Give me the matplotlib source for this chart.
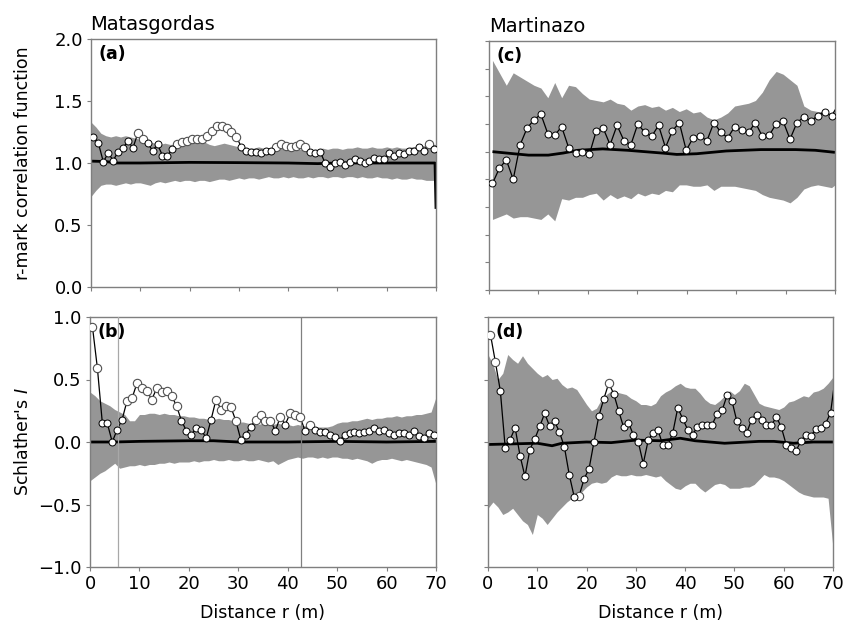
import numpy as np
import matplotlib
matplotlib.use("Agg")
import matplotlib.pyplot as plt

plt.rcParams['font.family'] = ['DejaVu Sans']
plt.rcParams['mathtext.fontset'] = 'custom'
plt.rcParams['mathtext.it'] = 'DejaVu Sans:italic'
plt.rcParams['mathtext.rm'] = 'DejaVu Sans'

# ---------------- data ----------------
# observation distances (m)
r_obs = np.arange(70) + 0.5              # panels a, b
r_obs_d = np.arange(71) + 0.5            # panel d (last value beyond axis)
r_obs_c = np.arange(51) * 1.4 + 0.7      # panel c (last value beyond axis)
r_band = np.arange(71)                   # envelope grid for a, b, d
r_band_c = np.append(np.arange(50) * 1.4 + 0.7, 70.0)

# (a) Matasgordas r-mark correlation function
obs_a = [1.21, 1.16, 1.01, 1.08, 1.02, 1.09, 1.12, 1.18, 1.12, 1.24,
         1.19, 1.16, 1.10, 1.15, 1.06, 1.06, 1.11, 1.15, 1.17, 1.18,
         1.19, 1.19, 1.19, 1.22, 1.26, 1.30, 1.30, 1.28, 1.25, 1.21,
         1.13, 1.10, 1.09, 1.09, 1.08, 1.10, 1.10, 1.13, 1.15, 1.14,
         1.13, 1.14, 1.15, 1.13, 1.09, 1.08, 1.09, 1.00, 0.97, 1.00,
         1.01, 0.98, 1.01, 1.03, 1.02, 1.00, 1.02, 1.04, 1.03, 1.03,
         1.08, 1.06, 1.08, 1.07, 1.10, 1.10, 1.13, 1.10, 1.15, 1.11]
hi_a = [1.33, 1.29, 1.24, 1.22, 1.21, 1.22, 1.21, 1.22, 1.21, 1.20,
        1.19, 1.18, 1.17, 1.16, 1.15, 1.16, 1.15, 1.15, 1.14, 1.15,
        1.16, 1.17, 1.18, 1.17, 1.15, 1.14, 1.15, 1.16, 1.15, 1.14,
        1.13, 1.13, 1.12, 1.12, 1.13, 1.12, 1.12, 1.13, 1.12, 1.12,
        1.11, 1.12, 1.11, 1.11, 1.12, 1.11, 1.11, 1.12, 1.11, 1.12,
        1.12, 1.11, 1.12, 1.12, 1.13, 1.12, 1.12, 1.13, 1.12, 1.12,
        1.13, 1.12, 1.13, 1.12, 1.12, 1.13, 1.13, 1.14, 1.14, 1.15, 1.15]
lo_a = [0.73, 0.78, 0.82, 0.83, 0.83, 0.82, 0.83, 0.84, 0.83, 0.84,
        0.84, 0.83, 0.82, 0.84, 0.85, 0.84, 0.85, 0.86, 0.85, 0.86,
        0.86, 0.85, 0.86, 0.86, 0.85, 0.86, 0.87, 0.87, 0.86, 0.87,
        0.88, 0.87, 0.88, 0.88, 0.87, 0.88, 0.89, 0.88, 0.88, 0.89,
        0.88, 0.89, 0.88, 0.88, 0.89, 0.88, 0.89, 0.89, 0.88, 0.89,
        0.89, 0.88, 0.89, 0.89, 0.88, 0.89, 0.88, 0.88, 0.89, 0.88,
        0.88, 0.87, 0.88, 0.87, 0.87, 0.88, 0.87, 0.87, 0.86, 0.86, 0.86]
mean_a_r = [0, 3, 5, 10, 20, 30, 40, 46, 50, 60, 69.8, 70.0]
mean_a = [1.015, 1.012, 1.0, 1.0, 1.005, 1.003, 1.0, 0.995, 1.0, 1.0, 1.0, 0.63]

# (b) Matasgordas Schlather's I
obs_b = [0.92, 0.59, 0.15, 0.15, 0.00, 0.10, 0.18, 0.33, 0.35, 0.47,
         0.43, 0.41, 0.34, 0.43, 0.40, 0.41, 0.37, 0.29, 0.17, 0.09,
         0.06, 0.11, 0.10, 0.03, 0.18, 0.34, 0.26, 0.29, 0.28, 0.17,
         0.02, 0.06, 0.12, 0.18, 0.22, 0.17, 0.17, 0.09, 0.20, 0.14,
         0.23, 0.22, 0.20, 0.09, 0.14, 0.10, 0.08, 0.08, 0.06, 0.04,
         0.01, 0.06, 0.07, 0.08, 0.07, 0.08, 0.09, 0.11, 0.09, 0.10,
         0.07, 0.06, 0.075, 0.075, 0.06, 0.085, 0.05, 0.03, 0.075, 0.06]
hi_b = [0.40, 0.37, 0.33, 0.31, 0.29, 0.26, 0.24, 0.22, 0.17, 0.17,
        0.22, 0.22, 0.23, 0.23, 0.22, 0.23, 0.22, 0.22, 0.21, 0.21,
        0.20, 0.20, 0.19, 0.19, 0.18, 0.18, 0.19, 0.18, 0.18, 0.17,
        0.16, 0.16, 0.15, 0.15, 0.14, 0.15, 0.14, 0.14, 0.15, 0.14,
        0.14, 0.13, 0.14, 0.13, 0.13, 0.12, 0.12, 0.12, 0.12, 0.13,
        0.15, 0.16, 0.16, 0.17, 0.17, 0.18, 0.19, 0.18, 0.19, 0.19,
        0.20, 0.20, 0.21, 0.20, 0.21, 0.21, 0.22, 0.22, 0.23, 0.24, 0.36]
lo_b = [-0.31, -0.28, -0.25, -0.23, -0.20, -0.17, -0.21, -0.20, -0.19, -0.19,
        -0.18, -0.19, -0.18, -0.18, -0.17, -0.17, -0.16, -0.17, -0.16, -0.16,
        -0.16, -0.15, -0.16, -0.15, -0.15, -0.14, -0.15, -0.15, -0.14, -0.15,
        -0.15, -0.14, -0.15, -0.15, -0.14, -0.15, -0.16, -0.15, -0.18, -0.16,
        -0.14, -0.13, -0.12, -0.13, -0.12, -0.12, -0.13, -0.12, -0.13, -0.12,
        -0.12, -0.13, -0.13, -0.14, -0.13, -0.14, -0.15, -0.17, -0.15, -0.14,
        -0.14, -0.13, -0.14, -0.15, -0.14, -0.15, -0.16, -0.17, -0.18, -0.20, -0.34]
mean_b_r = [0, 5, 10, 20, 25, 30, 40, 50, 60, 70]
mean_b = [0.0, 0.0, 0.005, 0.01, 0.01, 0.0, 0.0, 0.005, 0.0, 0.005]
vlines_b = [5.7, 42.6]

# (c) Martinazo r-mark correlation function
obs_c = [0.77, 0.88, 0.94, 0.80, 1.05, 1.17, 1.23, 1.27, 1.13, 1.12,
         1.18, 1.03, 0.99, 1.00, 0.98, 1.15, 1.17, 1.05, 1.19, 1.08,
         1.05, 1.20, 1.14, 1.11, 1.19, 1.03, 1.15, 1.21, 1.01, 1.10,
         1.11, 1.08, 1.21, 1.14, 1.10, 1.18, 1.16, 1.14, 1.21, 1.11,
         1.12, 1.20, 1.22, 1.09, 1.21, 1.25, 1.22, 1.26, 1.29, 1.26, 1.34]
hi_c = [1.66, 1.57, 1.48, 1.57, 1.54, 1.51, 1.48, 1.46, 1.39, 1.50,
        1.39, 1.48, 1.47, 1.42, 1.38, 1.37, 1.36, 1.38, 1.35, 1.34,
        1.30, 1.33, 1.34, 1.32, 1.33, 1.30, 1.32, 1.29, 1.31, 1.28,
        1.29, 1.25, 1.23, 1.25, 1.28, 1.33, 1.34, 1.35, 1.37, 1.43,
        1.52, 1.58, 1.56, 1.52, 1.48, 1.33, 1.30, 1.29, 1.29, 1.27, 1.30]
lo_c = [0.51, 0.53, 0.55, 0.52, 0.53, 0.53, 0.52, 0.51, 0.55, 0.50,
        0.66, 0.65, 0.67, 0.67, 0.69, 0.70, 0.65, 0.69, 0.66, 0.68,
        0.66, 0.70, 0.68, 0.70, 0.69, 0.72, 0.71, 0.76, 0.76, 0.75,
        0.75, 0.76, 0.72, 0.75, 0.75, 0.75, 0.74, 0.73, 0.72, 0.69,
        0.67, 0.66, 0.65, 0.63, 0.67, 0.73, 0.75, 0.76, 0.75, 0.74, 0.76]
mean_c_r = [0.7, 5, 8, 12, 15, 18, 23, 28, 35, 38, 42, 48, 55, 62, 66, 70]
mean_c = [1.00, 0.985, 0.975, 0.975, 0.99, 1.01, 1.02, 1.01, 0.99, 0.98,
          0.985, 1.005, 1.015, 1.015, 1.01, 0.995]

# (d) Martinazo Schlather's I
obs_d = [0.86, 0.64, 0.41, -0.05, 0.02, 0.115, -0.11, -0.275, -0.06, 0.025,
         0.125, 0.23, 0.125, 0.165, 0.08, -0.04, -0.265, -0.44, -0.43, -0.295,
         -0.215, 0.00, 0.21, 0.345, 0.47, 0.387, 0.25, 0.12, 0.156, 0.055,
         0.00, -0.173, 0.013, 0.076, 0.094, -0.027, -0.027, 0.075, 0.272, 0.187,
         0.10, 0.06, 0.12, 0.14, 0.14, 0.14, 0.227, 0.253, 0.373, 0.328,
         0.165, 0.115, 0.075, 0.18, 0.22, 0.18, 0.133, 0.133, 0.20, 0.12,
         -0.02, -0.045, -0.07, 0.008, 0.06, 0.045, 0.107, 0.112, 0.147, 0.232, 0.53]
hi_d = [0.70, 0.62, 0.50, 0.55, 0.70, 0.66, 0.63, 0.69, 0.63, 0.59,
        0.55, 0.52, 0.54, 0.50, 0.51, 0.46, 0.43, 0.44, 0.42, 0.36,
        0.30, 0.25, 0.27, 0.34, 0.38, 0.41, 0.40, 0.39, 0.38, 0.35,
        0.33, 0.30, 0.30, 0.29, 0.31, 0.37, 0.40, 0.42, 0.45, 0.47,
        0.44, 0.43, 0.43, 0.39, 0.34, 0.31, 0.30, 0.33, 0.37, 0.41,
        0.38, 0.41, 0.47, 0.45, 0.38, 0.31, 0.29, 0.28, 0.27, 0.26,
        0.28, 0.32, 0.33, 0.35, 0.37, 0.36, 0.40, 0.41, 0.43, 0.47, 0.52]
lo_d = [-0.53, -0.48, -0.52, -0.58, -0.56, -0.53, -0.58, -0.63, -0.66, -0.74,
        -0.58, -0.61, -0.66, -0.61, -0.56, -0.52, -0.48, -0.45, -0.44, -0.40,
        -0.36, -0.33, -0.32, -0.33, -0.32, -0.28, -0.26, -0.27, -0.27, -0.26,
        -0.27, -0.27, -0.26, -0.27, -0.28, -0.27, -0.31, -0.34, -0.37, -0.38,
        -0.35, -0.33, -0.33, -0.37, -0.40, -0.37, -0.34, -0.33, -0.34, -0.37,
        -0.37, -0.37, -0.36, -0.36, -0.34, -0.30, -0.26, -0.28, -0.28, -0.29,
        -0.31, -0.34, -0.37, -0.40, -0.42, -0.43, -0.44, -0.44, -0.44, -0.45, -0.85]
mean_d_r = [0, 5, 10, 13, 15, 20, 25, 30, 35, 39, 42, 48, 55, 58, 62, 66, 70]
mean_d = [-0.02, -0.015, -0.01, -0.03, -0.01, 0.0, -0.005, 0.015, 0.01, 0.03,
          0.01, -0.01, 0.005, 0.005, -0.01, 0.0, 0.0]

# ---------------- figure ----------------
W, H = 860, 629
fig = plt.figure(figsize=(W / 100, H / 100), dpi=100)

def rect(l, r, t, b):
    return [l / W, 1 - b / H, (r - l) / W, (b - t) / H]

ax_a = fig.add_axes(rect(91, 436, 39, 287))
ax_c = fig.add_axes(rect(489, 835, 41, 290))
ax_b = fig.add_axes(rect(90, 436, 317, 567))
ax_d = fig.add_axes(rect(488, 833, 317, 567))

BAND = '#969696'
SPINE = '#7f7f7f'


def fmt1(v, pos):
    s = '%.1f' % v
    if s == '-0.0':
        s = '0.0'
    return s.replace('-', '\u2212')


def panel(ax, r, obs, rb, lo, hi, mr, mv, label):
    r = np.asarray(r, float)
    obs = np.asarray(obs, float)
    ax.fill_between(rb, lo, hi, color=BAND, linewidth=0, zorder=1)
    ax.plot(mr, mv, color='black', lw=2.0, zorder=2, solid_capstyle='butt')
    ax.plot(r, obs, color='black', lw=0.9, zorder=3)
    inside_x = r <= 70
    elo = np.interp(r, rb, lo)
    ehi = np.interp(r, rb, hi)
    out = ((obs > ehi) | (obs < elo)) & inside_x
    inn = (~out) & inside_x
    ax.plot(r[out], obs[out], ls='none', marker='o', ms=6.0, mfc='white',
            mec='#505050', mew=0.8, zorder=4)
    ax.plot(r[inn], obs[inn], ls='none', marker='o', ms=5.0, mfc='white',
            mec='black', mew=0.7, zorder=4)
    ax.set_xlim(0, 70)
    ax.set_xticks(range(0, 71, 10))
    for s in ax.spines.values():
        s.set_color(SPINE)
        s.set_linewidth(1.0)
    ax.tick_params(direction='out', length=3, width=0.8, color=SPINE,
                   labelsize=13, pad=3)
    ax.text(0.022, 0.975, label, transform=ax.transAxes, ha='left', va='top',
            fontsize=12.5, fontweight='bold', zorder=5)


panel(ax_a, r_obs, obs_a, r_band, lo_a, hi_a, mean_a_r, mean_a, '(a)')
panel(ax_b, r_obs, obs_b, r_band, lo_b, hi_b, mean_b_r, mean_b, '(b)')
panel(ax_c, r_obs_c, obs_c, r_band_c, lo_c, hi_c, mean_c_r, mean_c, '(c)')
panel(ax_d, r_obs_d, obs_d, r_band, lo_d, hi_d, mean_d_r, mean_d, '(d)')

for xv, col in zip(vlines_b, ['#a8a8a8', '#808080']):
    ax_b.axvline(xv, color=col, lw=0.9, zorder=3.5)

ax_a.set_ylim(0, 2.0)
ax_a.set_yticks([0, 0.5, 1.0, 1.5, 2.0])
ax_a.yaxis.set_major_formatter(matplotlib.ticker.FuncFormatter(fmt1))
ax_a.tick_params(labelbottom=False)

ax_c.set_ylim(0, 1.8)
ax_c.set_yticks(np.arange(0, 1.81, 0.2))
ax_c.tick_params(labelbottom=False, labelleft=False)

ax_b.set_ylim(-1.0, 1.0)
ax_b.set_yticks([-1.0, -0.5, 0.0, 0.5, 1.0])
ax_b.yaxis.set_major_formatter(matplotlib.ticker.FuncFormatter(fmt1))

ax_d.set_ylim(-1.0, 1.0)
ax_d.set_yticks([-1.0, -0.5, 0.0, 0.5, 1.0])
ax_d.tick_params(labelleft=False)

ax_a.set_ylabel('r-mark correlation function', fontsize=12.5)
ax_a.yaxis.set_label_coords(-0.172, 0.5)
ax_b.set_ylabel("Schlather's $\\it{I}$", fontsize=12.5)
ax_b.yaxis.set_label_coords(-0.168, 0.5)

for ax in (ax_b, ax_d):
    ax.set_xlabel('Distance r (m)', fontsize=12.5)
    ax.xaxis.set_label_coords(0.5, -0.15)

fig.text(90 / W, 1 - 30 / H, 'Matasgordas', ha='left', va='baseline', fontsize=14)
fig.text(489 / W, 1 - 32 / H, 'Martinazo', ha='left', va='baseline', fontsize=14)

fig.savefig('out.png', dpi=100)
